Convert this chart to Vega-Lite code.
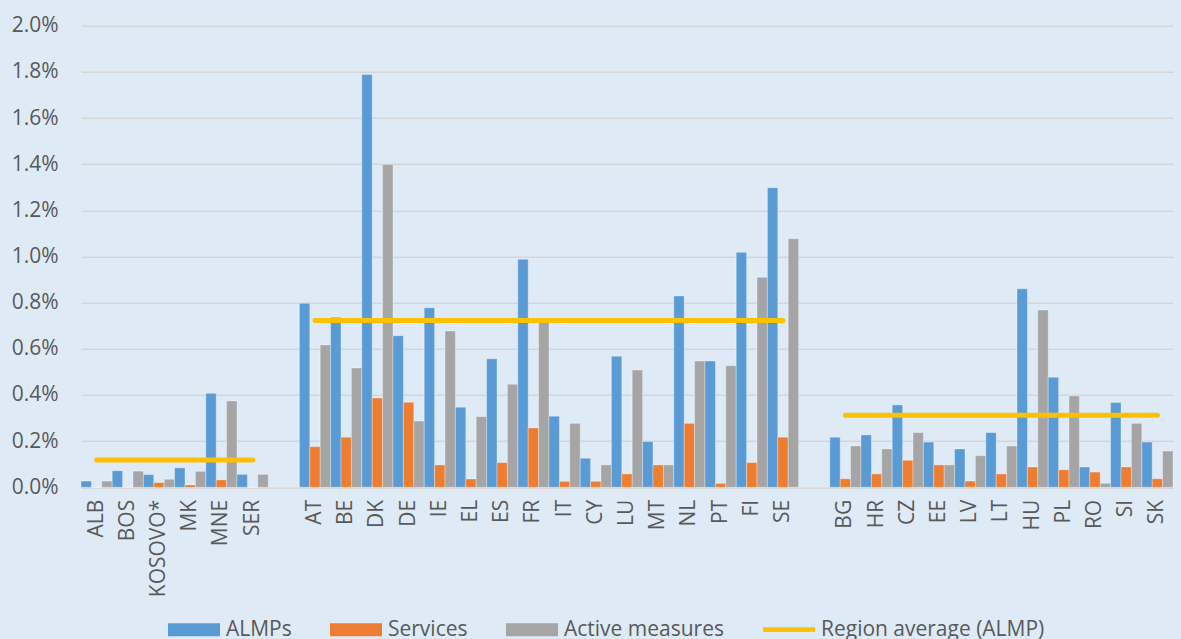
{
  "$schema": "https://vega.github.io/schema/vega-lite/v6.json",
  "autosize": "none",
  "width": 1092,
  "height": 461.6,
  "padding": {"left": 81, "top": 25.7, "right": 8, "bottom": 152},
  "background": "#DEEBF7",
  "config": {
    "font": "Open Sans",
    "view": {"stroke": null},
    "axis": {"labelFont": "Open Sans", "labelColor": "#595959", "labelFontSize": 21}
  },
  "datasets": {
    "bars": [
      {"country": "ALB", "ALMPs": 0.00027, "Services": 0, "Active measures": 0.00027},
      {"country": "BOS", "ALMPs": 0.00072, "Services": 0, "Active measures": 0.0007},
      {"country": "KOSOVO*", "ALMPs": 0.00055, "Services": 0.0002, "Active measures": 0.00035},
      {"country": "MK", "ALMPs": 0.00084, "Services": 0.0001, "Active measures": 0.00069},
      {"country": "MNE", "ALMPs": 0.00407, "Services": 0.00032, "Active measures": 0.00374},
      {"country": "SER", "ALMPs": 0.00056, "Services": 0, "Active measures": 0.00056},
      {"country": "AT", "ALMPs": 0.00797, "Services": 0.00176, "Active measures": 0.00617},
      {"country": "BE", "ALMPs": 0.00737, "Services": 0.00217, "Active measures": 0.00517},
      {"country": "DK", "ALMPs": 0.01789, "Services": 0.00387, "Active measures": 0.01399},
      {"country": "DE", "ALMPs": 0.00657, "Services": 0.00368, "Active measures": 0.00287},
      {"country": "IE", "ALMPs": 0.00778, "Services": 0.00097, "Active measures": 0.00677},
      {"country": "EL", "ALMPs": 0.00347, "Services": 0.00036, "Active measures": 0.00306},
      {"country": "ES", "ALMPs": 0.00557, "Services": 0.00107, "Active measures": 0.00446},
      {"country": "FR", "ALMPs": 0.00988, "Services": 0.00257, "Active measures": 0.00715},
      {"country": "IT", "ALMPs": 0.00308, "Services": 0.00026, "Active measures": 0.00277},
      {"country": "CY", "ALMPs": 0.00126, "Services": 0.00026, "Active measures": 0.00097},
      {"country": "LU", "ALMPs": 0.00568, "Services": 0.00058, "Active measures": 0.00508},
      {"country": "MT", "ALMPs": 0.00198, "Services": 0.00097, "Active measures": 0.00097},
      {"country": "NL", "ALMPs": 0.00829, "Services": 0.00277, "Active measures": 0.00547},
      {"country": "PT", "ALMPs": 0.00547, "Services": 0.00017, "Active measures": 0.00527},
      {"country": "FI", "ALMPs": 0.01018, "Services": 0.00107, "Active measures": 0.0091},
      {"country": "SE", "ALMPs": 0.01298, "Services": 0.00217, "Active measures": 0.01077},
      {"country": "BG", "ALMPs": 0.00217, "Services": 0.00037, "Active measures": 0.00179},
      {"country": "HR", "ALMPs": 0.00227, "Services": 0.00058, "Active measures": 0.00166},
      {"country": "CZ", "ALMPs": 0.00357, "Services": 0.00117, "Active measures": 0.00237},
      {"country": "EE", "ALMPs": 0.00196, "Services": 0.00097, "Active measures": 0.00097},
      {"country": "LV", "ALMPs": 0.00166, "Services": 0.00027, "Active measures": 0.00137},
      {"country": "LT", "ALMPs": 0.00237, "Services": 0.00058, "Active measures": 0.00179},
      {"country": "HU", "ALMPs": 0.0086, "Services": 0.00088, "Active measures": 0.00768},
      {"country": "PL", "ALMPs": 0.00477, "Services": 0.00076, "Active measures": 0.00396},
      {"country": "RO", "ALMPs": 0.00088, "Services": 0.00066, "Active measures": 0.00017},
      {"country": "SI", "ALMPs": 0.00367, "Services": 0.00088, "Active measures": 0.00277},
      {"country": "SK", "ALMPs": 0.00196, "Services": 0.00037, "Active measures": 0.00157}
    ],
    "avg": [
      {"region": "Western Balkans", "country": "ALB", "key": "Region average (ALMP)", "value": 0.00118},
      {"region": "Western Balkans", "country": "SER", "key": "Region average (ALMP)", "value": 0.00118},
      {"region": "EU-15", "country": "AT", "key": "Region average (ALMP)", "value": 0.00723},
      {"region": "EU-15", "country": "SE", "key": "Region average (ALMP)", "value": 0.00723},
      {"region": "NMS", "country": "BG", "key": "Region average (ALMP)", "value": 0.00312},
      {"region": "NMS", "country": "SK", "key": "Region average (ALMP)", "value": 0.00312}
    ]
  },
  "encoding": {
    "x": {
      "field": "country",
      "type": "nominal",
      "scale": {
        "domain": ["ALB", "BOS", "KOSOVO*", "MK", "MNE", "SER", "_gap1", "AT", "BE", "DK", "DE", "IE", "EL", "ES", "FR", "IT", "CY", "LU", "MT", "NL", "PT", "FI", "SE", "_gap2", "BG", "HR", "CZ", "EE", "LV", "LT", "HU", "PL", "RO", "SI", "SK"],
        "paddingInner": 0,
        "paddingOuter": 0
      },
      "axis": {
        "title": null,
        "labelAngle": -90,
        "labelPadding": 12,
        "ticks": false,
        "tickSize": 0,
        "domain": false,
        "grid": false,
        "labelExpr": "indexof(datum.value, '_gap') == 0 ? '' : datum.value"
      }
    },
    "y": {
      "field": "value",
      "type": "quantitative",
      "scale": {"domain": [0, 0.02], "nice": false},
      "axis": {
        "title": null,
        "format": ".1%",
        "values": [0, 0.002, 0.004, 0.006, 0.008, 0.01, 0.012, 0.014, 0.016, 0.018, 0.02],
        "ticks": false,
        "tickSize": 0,
        "labelPadding": 23,
        "domain": false,
        "grid": true,
        "gridColor": "#D5D5D5",
        "gridWidth": 1.5
      }
    },
    "color": {
      "field": "key",
      "type": "nominal",
      "scale": {
        "domain": ["ALMPs", "Services", "Active measures", "Region average (ALMP)"],
        "range": ["#5B9BD5", "#ED7D31", "#A5A5A5", "#FFC000"]
      },
      "legend": {
        "title": null,
        "orient": "none",
        "legendX": 87,
        "legendY": 578,
        "direction": "horizontal",
        "symbolSize": 2704,
        "symbolStrokeWidth": 0,
        "labelFont": "Open Sans",
        "labelFontSize": 21,
        "labelColor": "#595959",
        "labelLimit": 500,
        "labelOffset": 6,
        "columnPadding": 38,
        "encode": {
          "symbols": {
            "update": {
              "shape": {"signal": "datum.value === 'Region average (ALMP)' ? 'M-1,-0.09H1V0.09H-1Z' : 'M-1,-0.25H1V0.25H-1Z'"},
              "fill": {"scale": "color", "field": "value"},
              "stroke": {"value": "transparent"},
              "opacity": {"value": 1},
              "fillOpacity": {"value": 1}
            }
          }
        }
      }
    }
  },
  "layer": [
    {
      "data": {"name": "bars"},
      "transform": [{"fold": ["ALMPs", "Services", "Active measures"]}],
      "mark": {"type": "bar", "stroke": "#FFFFFF", "strokeWidth": 0.7, "strokeOpacity": 0.45},
      "encoding": {
        "xOffset": {
          "field": "key",
          "type": "nominal",
          "scale": {"domain": ["ALMPs", "Services", "Active measures"], "paddingInner": 0, "paddingOuter": 0}
        }
      }
    },
    {
      "data": {"name": "avg"},
      "mark": {"type": "line", "strokeWidth": 5, "strokeCap": "round"},
      "encoding": {
        "detail": {"field": "region", "type": "nominal"}
      }
    }
  ]
}
